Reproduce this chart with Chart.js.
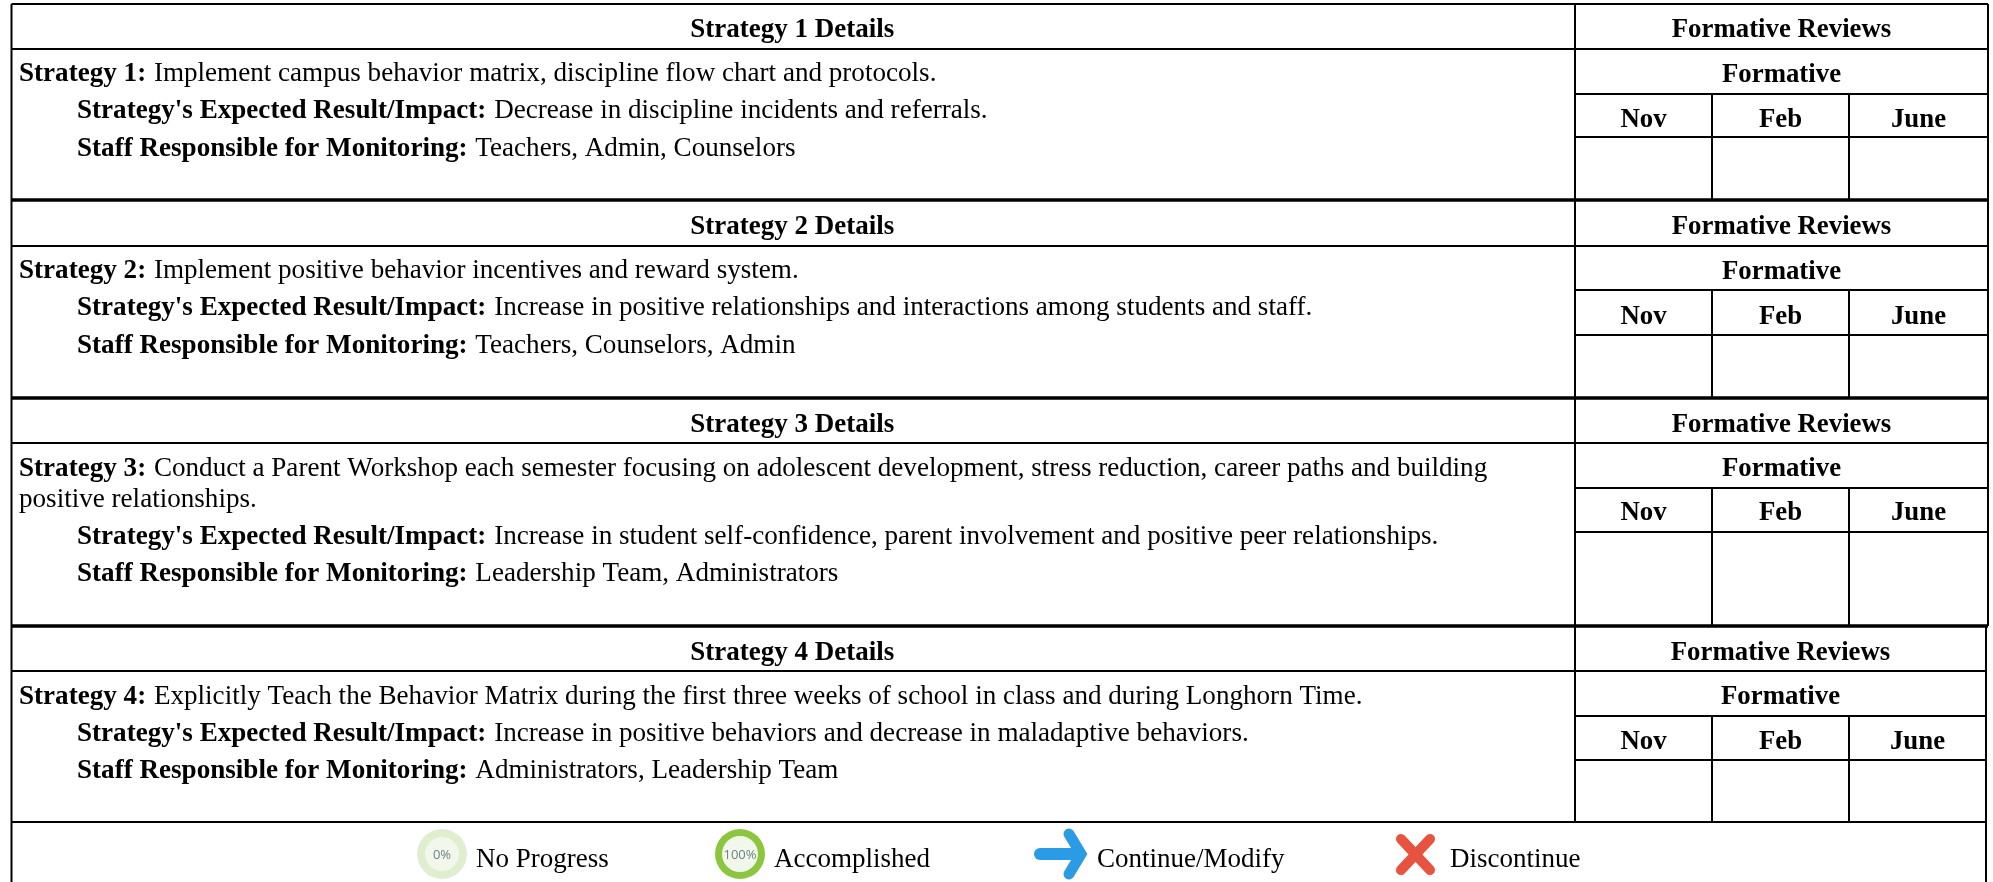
<!DOCTYPE html>
<html>
<head>
<meta charset="utf-8">
<title>Strategy Details</title>
<script src="https://cdn.jsdelivr.net/npm/chart.js@4"></script>
<style>
  html, body { margin: 0; padding: 0; background: #fff; }
  canvas { display: block; }
</style>
</head>
<body>
<canvas id="strategy_table" width="1993" height="882"></canvas>
<script>
// table text
var detailHeads = ['Strategy 1 Details', 'Strategy 2 Details', 'Strategy 3 Details', 'Strategy 4 Details'];
var strategyLabels = ['Strategy 1:', 'Strategy 2:', 'Strategy 3:', 'Strategy 4:'];
var strategyTexts = [
  'Implement campus behavior matrix, discipline flow chart and protocols.',
  'Implement positive behavior incentives and reward system.',
  'Conduct a Parent Workshop each semester focusing on adolescent development, stress reduction, career paths and building',
  'Explicitly Teach the Behavior Matrix during the first three weeks of school in class and during Longhorn Time.'
];
var strategyWrap = ['', '', 'positive relationships.', ''];
var impactLabel = "Strategy's Expected Result/Impact:";
var impactTexts = [
  'Decrease in discipline incidents and referrals.',
  'Increase in positive relationships and interactions among students and staff.',
  'Increase in student self-confidence, parent involvement and positive peer relationships.',
  'Increase in positive behaviors and decrease in maladaptive behaviors.'
];
var staffLabel = 'Staff Responsible for Monitoring:';
var staffTexts = [
  'Teachers, Admin, Counselors',
  'Teachers, Counselors, Admin',
  'Leadership Team, Administrators',
  'Administrators, Leadership Team'
];
var reviewHead = 'Formative Reviews';
var reviewSub = 'Formative';
var months = ['Nov', 'Feb', 'June'];
var legendLabels = ['No Progress', 'Accomplished', 'Continue/Modify', 'Discontinue'];
var ringLabels = ['0%', '100%'];

// table rules
var headBottoms = [49, 246, 443, 671];
var formativeBottoms = [94, 290, 488, 716];
var monthBottoms = [137, 335, 532, 760];
var rowBottoms = [200, 398, 626, 822];
var rightEdges = [1988, 1988, 1988, 1986];
var colSplit = 1575;
var monthSplits = [1712, 1849];
var leftEdge = 11.5;
var topEdge = 4;
var chartHeight = 882;

// legend marks
var ringX = [442, 740];
var legendY = 854;
var arrowBar = [{x: 1040, y: 854}, {x: 1080, y: 854}];
var arrowHead = [{x: 1069, y: 834}, {x: 1081, y: 854}, {x: 1069, y: 874}];
var crossA = [{x: 1401, y: 839}, {x: 1430, y: 870}];
var crossB = [{x: 1430, y: 839}, {x: 1401, y: 870}];

function rule(points, width) {
  return {
    data: points,
    showLine: true,
    borderColor: '#000',
    borderWidth: width,
    pointRadius: 0,
    clip: false,
    order: 3
  };
}

function stroke(points, color, width) {
  return {
    data: points,
    showLine: true,
    borderColor: color,
    borderWidth: width,
    borderCapStyle: 'round',
    borderJoinStyle: 'miter',
    pointRadius: 0,
    clip: false,
    order: 3
  };
}

function ring(x, color, radius, order) {
  return {
    data: [{x: x, y: legendY}],
    backgroundColor: color,
    borderWidth: 0,
    pointRadius: radius,
    pointStyle: 'circle',
    clip: false,
    order: order
  };
}

function buildDatasets() {
  var sets = [];
  var lastRight = rightEdges[rightEdges.length - 1];

  sets.push(rule([{x: leftEdge, y: topEdge}, {x: rightEdges[0], y: topEdge}], 2));
  sets.push(rule([{x: leftEdge, y: topEdge}, {x: leftEdge, y: chartHeight}], 2));
  sets.push(rule([{x: colSplit, y: topEdge}, {x: colSplit, y: rowBottoms[3]}], 2));

  rowBottoms.forEach(function(bottom, i) {
    var right = rightEdges[i];
    var top = i === 0 ? topEdge : rowBottoms[i - 1];
    sets.push(rule([{x: leftEdge, y: headBottoms[i]}, {x: right, y: headBottoms[i]}], 2));
    sets.push(rule([{x: colSplit, y: formativeBottoms[i]}, {x: right, y: formativeBottoms[i]}], 2));
    sets.push(rule([{x: colSplit, y: monthBottoms[i]}, {x: right, y: monthBottoms[i]}], 2));
    sets.push(rule([{x: leftEdge, y: bottom}, {x: i === 3 ? lastRight : right, y: bottom}], i === 3 ? 2 : 3.5));
    sets.push(rule([{x: right, y: top}, {x: right, y: i === 3 ? chartHeight : bottom}], 2));
    monthSplits.forEach(function(x) {
      sets.push(rule([{x: x, y: formativeBottoms[i]}, {x: x, y: bottom}], 2));
    });
  });

  sets.push(ring(ringX[0], '#e0eed0', 25, 2));
  sets.push(ring(ringX[0], '#f1f7ea', 17, 1));
  sets.push(ring(ringX[1], '#8cc63f', 25, 2));
  sets.push(ring(ringX[1], '#f1f7ea', 18, 1));
  sets.push(stroke(arrowBar, '#2b9be6', 12));
  sets.push(stroke(arrowHead, '#2b9be6', 11));
  sets.push(stroke(crossA, '#e8533f', 10));
  sets.push(stroke(crossB, '#e8533f', 10));
  return sets;
}

var tableText = {
  id: 'tableText',
  afterDatasetsDraw: function(chart) {
    var ctx = chart.ctx;
    var sx = chart.scales.x;
    var sy = chart.scales.y;
    var serif = '"Liberation Serif", "Times New Roman", serif';
    var regular = '27px ' + serif;
    var bold = 'bold 27px ' + serif;
    var bodyRegular = '27.1px ' + serif;
    var bodyBold = 'bold 27.1px ' + serif;
    var reviewBold = 'bold 26.8px ' + serif;

    function put(str, x, y, font, align, color) {
      ctx.font = font;
      ctx.textAlign = align || 'left';
      ctx.textBaseline = 'alphabetic';
      ctx.fillStyle = color || '#000';
      ctx.fillText(str, sx.getPixelForValue(x), sy.getPixelForValue(y));
    }

    function labelled(label, text, x, y) {
      put(label, x, y, bodyBold);
      var w = ctx.measureText(label + ' ').width;
      put(text, x + w + 1, y, bodyRegular);
    }

    var headY = [37, 234, 432, 660];
    var subY = [82, 279, 476, 704];
    var monthY = [127, 324, 520, 749];
    var strategyY = [81, 278, 476, 704];
    var impactY = [118, 315, 544, 741];
    var staffY = [156, 353, 581, 778];
    var bodyX = 19;
    var indentX = 77;

    ctx.save();
    detailHeads.forEach(function(head, i) {
      var reviewMid = (colSplit + rightEdges[i]) / 2;
      put(head, (leftEdge + colSplit) / 2 - 1, headY[i], bold, 'center');
      put(reviewHead, reviewMid, headY[i], reviewBold, 'center');
      put(reviewSub, reviewMid, subY[i], reviewBold, 'center');
      var edges = [colSplit, monthSplits[0], monthSplits[1], rightEdges[i]];
      months.forEach(function(m, k) {
        put(m, (edges[k] + edges[k + 1]) / 2, monthY[i], reviewBold, 'center');
      });
      labelled(strategyLabels[i], strategyTexts[i], bodyX, strategyY[i]);
      if (strategyWrap[i]) {
        put(strategyWrap[i], bodyX, strategyY[i] + 31, bodyRegular);
      }
      labelled(impactLabel, impactTexts[i], indentX, impactY[i]);
      labelled(staffLabel, staffTexts[i], indentX, staffY[i]);
    });

    var legendTextX = [476, 774, 1097, 1450];
    legendLabels.forEach(function(label, i) {
      put(label, legendTextX[i], 867, regular);
    });
    ringLabels.forEach(function(label, i) {
      put(label, ringX[i], 859, '13px "Open Sans", sans-serif', 'center', '#6f8285');
    });
    ctx.restore();
  }
};

new Chart(document.getElementById('strategy_table').getContext('2d'), {
  type: 'scatter',
  data: { datasets: buildDatasets() },
  options: {
    responsive: false,
    animation: false,
    events: [],
    layout: { padding: 0, autoPadding: false },
    plugins: {
      legend: { display: false },
      tooltip: { enabled: false }
    },
    scales: {
      x: { type: 'linear', display: false, min: 0, max: 1993 },
      y: { type: 'linear', display: false, min: 0, max: chartHeight, reverse: true }
    }
  },
  plugins: [tableText]
});
</script>
</body>
</html>
